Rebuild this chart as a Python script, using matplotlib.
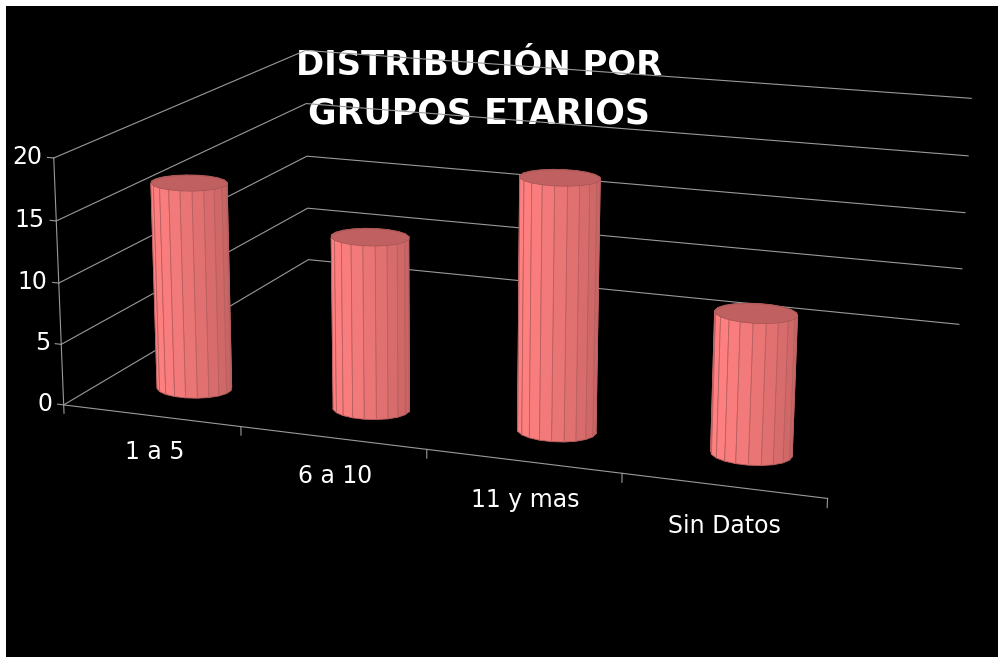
import numpy as np
import matplotlib
matplotlib.use('Agg')
import matplotlib.pyplot as plt
from matplotlib.patches import Rectangle
from mpl_toolkits.mplot3d.art3d import Poly3DCollection

categories = ['1 a 5', '6 a 10', '11 y mas', 'Sin Datos']
values = [17, 14, 20, 11]
value_ticks = [0, 5, 10, 15, 20]
title_lines = ['DISTRIBUCIÓN POR', 'GRUPOS ETARIOS']
title_sizes = [24.4, 25]

W, H = 998, 657
BAR_DEPTH = 0.16
RADIUS_X = 0.2
RADIUS_Y = 0.055
N_SIDES = 20
GRID_COLOR = '#9a9a9a'

# chart corners seen in the picture: (category, depth, value) -> (px, py)
CAMERA_ANCHORS = [
    ((0, 0, 0), (65, 405)), ((0, 0, 5), (62, 343)), ((0, 0, 10), (59, 284)),
    ((0, 0, 15), (56, 222)), ((0, 0, 20), (52, 158)),
    ((0, 1, 0), (307, 261)), ((0, 1, 5), (307, 208)), ((0, 1, 10), (307, 156)),
    ((0, 1, 15), (307, 103)), ((0, 1, 20), (307, 50)),
    ((4, 1, 0), (958, 325)), ((4, 1, 5), (963, 268)), ((4, 1, 10), (966, 212)),
    ((4, 1, 15), (968, 156)), ((4, 1, 20), (970, 99)),
    ((1, 0, 0), (240, 425)), ((2, 0, 0), (427, 450)), ((3, 0, 0), (622, 474)),
    ((4, 0, 0), (828, 498)),
]


def fit_camera(anchors):
    # plain DLT, gives a 3x4 matrix to display pixels
    rows = []
    for (x, y, z), (px, py) in anchors:
        py = H - py
        rows.append([x, y, z, 1, 0, 0, 0, 0, -px*x, -px*y, -px*z, -px])
        rows.append([0, 0, 0, 0, x, y, z, 1, -py*x, -py*y, -py*z, -py])
    _, _, vt = np.linalg.svd(np.array(rows, dtype=float))
    cam = vt[-1].reshape(3, 4)
    return cam / cam[2, 3]


CAMERA = fit_camera(CAMERA_ANCHORS)


def to_figure(x, y, z):
    # figure fraction of a chart point, used for the labels
    u, v, w = CAMERA @ np.array([x, y, z, 1.0])
    return u / w / W, v / w / H


def mix(dark, light, t):
    return tuple(d + (l - d) * t for d, l in zip(dark, light))


def add_cylinder(ax, cx, cy, height):
    angles = np.linspace(0, 2*np.pi, N_SIDES + 1) + np.pi / N_SIDES
    xs = cx + RADIUS_X * np.cos(angles)
    ys = cy + RADIUS_Y * np.sin(angles)

    sides = []
    colors = []
    dark = matplotlib.colors.to_rgb('#c46262')
    light = matplotlib.colors.to_rgb('#ff8080')
    for i in range(N_SIDES):
        sides.append([(xs[i], ys[i], 0), (xs[i+1], ys[i+1], 0),
                      (xs[i+1], ys[i+1], height), (xs[i], ys[i], height)])
        mid = (angles[i] + angles[i+1]) / 2
        colors.append(mix(dark, light, 0.5 * (1 + np.cos(mid - np.radians(215)))))

    side_poly = Poly3DCollection(sides, facecolors=colors, edgecolors='#b86060',
                                 linewidths=0.6, zsort='average', clip_on=False,
                                 zorder=3)
    ax.add_collection3d(side_poly)

    top = [[(x, y, height) for x, y in zip(xs[:-1], ys[:-1])]]
    top_poly = Poly3DCollection(top, facecolors='#c06060', edgecolors='#a85454',
                                linewidths=0.5, clip_on=False, zorder=4)
    ax.add_collection3d(top_poly)


def main():
    fig = plt.figure(figsize=(W / 100, H / 100), dpi=100, facecolor='white')
    fig.patches.append(Rectangle((6 / W, 0), (W - 6) / W, (H - 6) / H,
                                 transform=fig.transFigure, facecolor='black',
                                 edgecolor='none', zorder=-5))

    ax = fig.add_axes([0, 0, 1, 1], projection='3d', computed_zorder=False)
    ax.set_axis_off()
    ax.patch.set_visible(False)
    # ortho only so that Line3D does not mask points behind the fake camera
    ax.set_proj_type('ortho')

    def get_proj():
        # camera fitted in pixels, brought back into the axes' 2D coords
        inv = ax.transData.inverted().get_matrix()
        xy = inv @ CAMERA
        return np.array([xy[0], xy[1], [0, 1, 0, 0], CAMERA[2]])

    ax.get_proj = get_proj

    n = len(categories)
    grid = dict(color=GRID_COLOR, lw=0.8, clip_on=False, zorder=2)

    for v in value_ticks:
        ax.plot([0, 0, n], [0, 1, 1], [v, v, v], **grid)
        ax.plot([-0.035, 0], [0, 0], [v, v], **grid)
        px, py = to_figure(-0.065, 0, v)
        fig.text(px, py, str(v), color='white', fontsize=17, ha='right', va='center')
    ax.plot([0, 0], [0, 0], [0, value_ticks[-1]], **grid)
    ax.plot([0, n], [0, 0], [0, 0], **grid)
    for i in range(n + 1):
        ax.plot([i, i], [0, 0], [0, -0.7], **grid)

    for i, (name, val) in enumerate(zip(categories, values)):
        add_cylinder(ax, i + 0.5, BAR_DEPTH, val)
        px, py = to_figure(i + 0.51, 0, -3.6)
        fig.text(px, py, name, color='white', fontsize=17, ha='center', va='baseline')

    # below the axes: the grid lines cross over the title in the original
    for line, size, ypix in zip(title_lines, title_sizes, [75, 123]):
        fig.text(479 / W, 1 - ypix / H, line, color='white', fontsize=size,
                 fontweight='bold', ha='center', va='baseline', zorder=-1)

    fig.savefig('out.png', dpi=100, facecolor='white')


if __name__ == "__main__":
    main()
